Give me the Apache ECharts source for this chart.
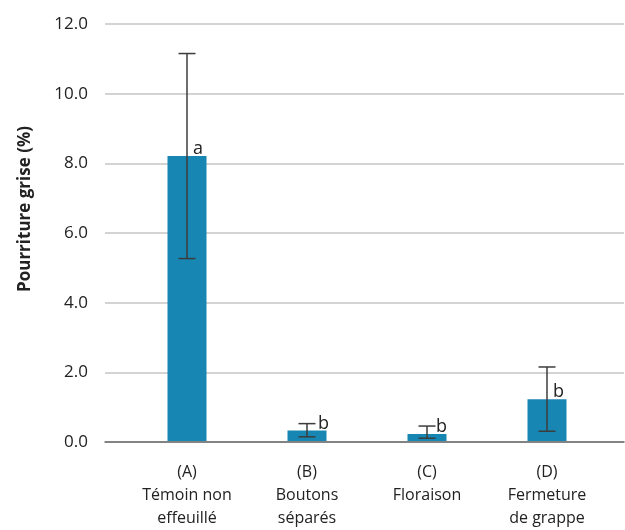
<!DOCTYPE html>
<html>
<head>
<meta charset="utf-8">
<script src="https://cdn.jsdelivr.net/npm/echarts@6/dist/echarts.min.js"></script>
<style>
  html, body { margin: 0; padding: 0; background: #fff; }
  #chart { width: 625px; height: 530px; }
</style>
</head>
<body>
<div id="chart"></div>
<script>
// Pourriture grise selon le stade d'effeuillage
const categories = ['(A)\nTémoin non\neffeuillé', '(B)\nBoutons\nséparés', '(C)\nFloraison', '(D)\nFermeture\nde grappe'];
const values = [8.2, 0.3, 0.2, 1.2];
const errLow = [5.25, 0.12, 0.08, 0.28];
const errHigh = [11.15, 0.5, 0.43, 2.13];
const letters = ['a', 'b', 'b', 'b'];
const yTicks = [0, 2, 4, 6, 8, 10, 12];

// horizontal shift of each significance letter from the bar centre (px)
const letterDx = [6, 11, 9, 6];

const FONT = '"Open Sans", "Noto Sans", sans-serif';
const BAR = '#1786b2';
const INK = '#3c3c3c';
const TEXT = '#222';

const chart = echarts.init(document.getElementById('chart'), null, { renderer: 'canvas' });

const yMin = yTicks[0], yMax = yTicks[yTicks.length - 1];

const option = {
  animation: false,
  backgroundColor: '#fff',
  grid: [
    { left: 105, right: 1, top: 24, bottom: 88 },
    { left: 127, right: 18, top: 24, bottom: 88 }
  ],
  xAxis: [
    {
      gridIndex: 0, type: 'category', data: [''],
      axisLine: { show: true, lineStyle: { color: '#6a6a6a', width: 1.5 } },
      axisTick: { show: false }, axisLabel: { show: false }, splitLine: { show: false }
    },
    {
      gridIndex: 1, type: 'category', data: categories,
      axisLine: { show: false }, axisTick: { show: false },
      axisLabel: {
        margin: 20, color: TEXT, fontFamily: FONT, fontSize: 16,
        lineHeight: 23, verticalAlign: 'top', interval: 0
      }
    }
  ],
  yAxis: [
    {
      gridIndex: 0, type: 'value', min: yMin, max: yMax, interval: 2,
      axisLine: { show: false }, axisTick: { show: false },
      axisLabel: {
        margin: 17, color: TEXT, fontFamily: FONT, fontSize: 17,
        formatter: v => v.toFixed(1)
      },
      splitLine: { show: true, lineStyle: { color: '#c4c4c4', width: 1.5 } }
    },
    {
      gridIndex: 1, type: 'value', min: yMin, max: yMax, interval: 2,
      show: false, splitLine: { show: false }
    }
  ],
  graphic: [
    {
      type: 'text', x: 25, y: 209, rotation: Math.PI / 2,
      style: {
        text: 'Pourriture grise (%)', fontFamily: FONT, fontSize: 17,
        fontWeight: 'bold', fill: TEXT, align: 'center', verticalAlign: 'middle'
      }
    }
  ],
  series: [
    {
      type: 'bar', xAxisIndex: 1, yAxisIndex: 1,
      data: values, barWidth: 39,
      itemStyle: { color: BAR }
    },
    {
      type: 'custom', xAxisIndex: 1, yAxisIndex: 1,
      data: values.map((v, i) => [i, v, errLow[i], errHigh[i]]),
      renderItem: function (params, api) {
        const i = api.value(0);
        const top = api.coord([i, api.value(1)]);
        const lo = api.coord([i, api.value(2)]);
        const hi = api.coord([i, api.value(3)]);
        const hw = 8.5;
        const line = { stroke: INK, lineWidth: 1.5 };
        return {
          type: 'group',
          children: [
            { type: 'line', shape: { x1: lo[0], y1: lo[1], x2: hi[0], y2: hi[1] }, style: line },
            { type: 'line', shape: { x1: lo[0] - hw, y1: lo[1], x2: lo[0] + hw, y2: lo[1] }, style: line },
            { type: 'line', shape: { x1: hi[0] - hw, y1: hi[1], x2: hi[0] + hw, y2: hi[1] }, style: line },
            {
              type: 'text', x: top[0] + letterDx[i], y: top[1] + 2,
              style: {
                text: letters[i], fontFamily: FONT, fontSize: 18, fill: TEXT,
                align: 'left', verticalAlign: 'bottom'
              }
            }
          ]
        };
      },
      z: 5
    }
  ]
};

chart.setOption(option);
</script>
</body>
</html>
